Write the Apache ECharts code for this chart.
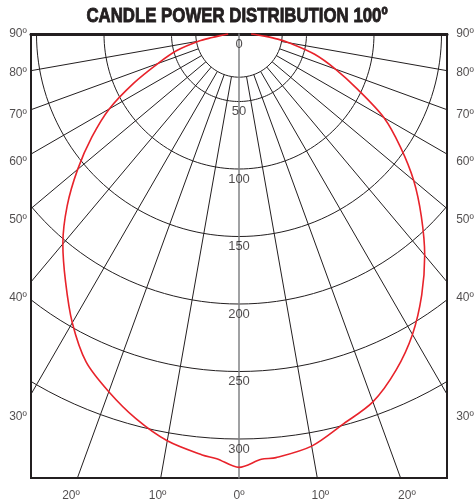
<!DOCTYPE html>
<html>
<head>
<meta charset="utf-8">
<title>Candle Power Distribution 100º</title>
<script src="https://cdn.jsdelivr.net/npm/echarts@6/dist/echarts.min.js"></script>
<style>
html, body { margin: 0; padding: 0; background: #fff; }
#chart { width: 474px; height: 503px; }
</style>
</head>
<body>
<div id="chart"></div>
<script>
// measured beam: angle from nadir (negative = left), candela
var angles = [-90, -87, -85, -82.5, -80, -75, -70, -65, -60, -55, -50, -45, -40, -35, -30, -25, -20, -15, -10, -5, -3,
              0, 3, 5, 10, 15, 20, 25, 30, 35, 40, 45, 50, 55, 60, 65, 70, 75, 80, 82.5, 85, 87, 90];
var candela = [8, 11, 14, 20, 30, 48, 64, 86, 111, 133, 156, 180, 203, 224, 247, 268, 282, 295, 306, 313, 315,
               321, 315.5, 315, 310, 299, 290, 275, 257, 236, 214, 191, 169, 146, 124, 97, 76, 58, 38, 29, 20, 14, 9];

var radiusTicks = [0, 50, 100, 150, 200, 250, 300];
var rayTicks = [-80, -70, -60, -50, -40, -30, -20, -10, 10, 20, 30, 40, 50, 60, 70, 80];
var sideTicks = [90, 80, 70, 60, 50, 40, 30];
var bottomTicks = [-20, -10, 0, 10, 20];

var hubRadius = 32;

var myChart = echarts.init(document.getElementById('chart'));

var pad = {left: 31, right: 27, top: 34, bottom: 25};
var plotW = 474 - pad.left - pad.right;
var plotH = 503 - pad.top - pad.bottom;
var k = 1.35; // px per candela
var xHalf = plotW / 2 / k;
var yMax = plotH / k;
var rMax = 330;

var ink = '#231f20';
var font = '"Liberation Sans", Arial, sans-serif';

function rad(a) { return a * Math.PI / 180; }
function polarPt(r, a) { return [r * Math.sin(rad(a)), r * Math.cos(rad(a))]; }

var series = [];

// circles
var rings = [hubRadius].concat(radiusTicks.slice(1));
rings.forEach(function (r) {
    var pts = [];
    for (var a = -90; a <= 90; a += 2) pts.push(polarPt(r, a));
    series.push({
        type: 'line', data: pts, symbol: 'none', silent: true, clip: true,
        lineStyle: {color: ink, width: 1}, z: 2
    });
});

// rays
rayTicks.forEach(function (a) {
    series.push({
        type: 'line', data: [polarPt(hubRadius, a), polarPt(600, a)], symbol: 'none', silent: true, clip: true,
        lineStyle: {color: ink, width: 1}, z: 2
    });
});

// angle labels
var labelPts = [];
var lx = 221 / k, rx = 226 / k, by = 461.5 / k;
sideTicks.forEach(function (a) {
    var y = lx * Math.cos(rad(a)) / Math.sin(rad(a));
    labelPts.push([-lx, y, a + 'º']);
    labelPts.push([rx, y, a + 'º']);
});
bottomTicks.forEach(function (a) {
    labelPts.push([by * Math.tan(rad(a)), by, Math.abs(a) + 'º']);
});
series.push({
    type: 'scatter', data: labelPts, symbolSize: 1, clip: false, silent: true,
    itemStyle: {color: 'rgba(0,0,0,0)'},
    label: {
        show: true, position: 'inside', color: ink, fontSize: 12, fontFamily: font,
        formatter: function (p) { return p.data[2]; }
    },
    z: 5
});

// candela labels down the nadir line
series.push({
    type: 'scatter', data: radiusTicks.map(function (r) { return [0, r, String(r)]; }),
    symbolSize: 1, clip: false, silent: true,
    itemStyle: {color: 'rgba(0,0,0,0)'},
    label: {
        show: true, position: 'inside', offset: [0, 10], color: ink, fontSize: 13, fontFamily: font,
        formatter: function (p) { return p.data[2]; }
    },
    z: 6
});

// beam curve
series.push({
    type: 'line', coordinateSystem: 'polar', polarIndex: 0,
    data: angles.map(function (a, i) { return [candela[i], a]; }),
    symbol: 'none', smooth: 0.3, silent: true,
    lineStyle: {color: '#e8232b', width: 1.6}, z: 10
});

var option = {
    animation: false,
    graphic: [{
        type: 'text', x: pad.left + plotW / 2 - 2, y: 16, scaleX: 0.84,
        style: {
            text: 'CANDLE POWER DISTRIBUTION 100º', fill: ink, stroke: ink, lineWidth: 0.9,
            font: 'bold 20px ' + font, textAlign: 'center', textVerticalAlign: 'middle'
        }
    }],
    grid: {
        left: pad.left, right: pad.right, top: pad.top, bottom: pad.bottom,
        show: true, borderColor: ink, borderWidth: 2, backgroundColor: 'transparent'
    },
    xAxis: {
        type: 'value', min: -xHalf, max: xHalf,
        axisLine: {show: true, onZero: true, lineStyle: {color: ink, width: 3}},
        axisTick: {show: false}, axisLabel: {show: false}, splitLine: {show: false}
    },
    yAxis: {
        type: 'value', inverse: true, min: 0, max: yMax,
        axisLine: {show: true, onZero: true, lineStyle: {color: '#808285', width: 1.5}},
        axisTick: {show: false}, splitLine: {show: false}, axisLabel: {show: false},
        z: 4
    },
    polar: {center: [pad.left + plotW / 2, pad.top], radius: rMax * k},
    angleAxis: {type: 'value', min: -180, max: 180, startAngle: 90, clockwise: false, show: false},
    radiusAxis: {type: 'value', min: 0, max: rMax, show: false},
    series: series
};
myChart.setOption(option);
</script>
</body>
</html>
